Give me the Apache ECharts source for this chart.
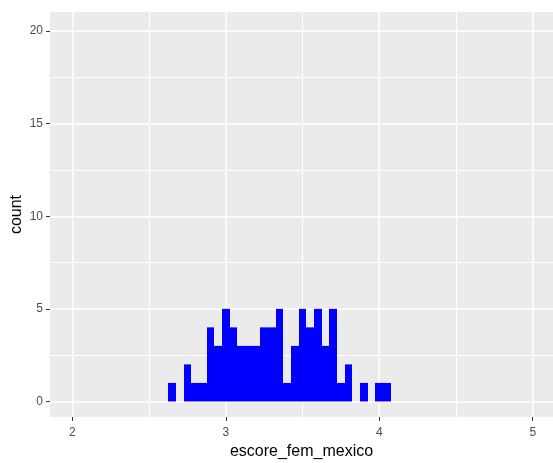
<!DOCTYPE html>
<html>
<head>
<meta charset="utf-8">
<script src="https://cdn.jsdelivr.net/npm/echarts@6/dist/echarts.min.js"></script>
<style>html,body{margin:0;padding:0;background:#fff;}#c{width:553px;height:463px;}</style>
</head>
<body>
<div id="c"></div>
<script>
const binCenters = [2.65,2.70,2.75,2.80,2.85,2.90,2.95,3.00,3.05,3.10,3.15,3.20,3.25,3.30,3.35,3.40,3.45,3.50,3.55,3.60,3.65,3.70,3.75,3.80,3.85,3.90,3.95,4.00,4.05];
const counts = [1,0,2,1,1,4,3,5,4,3,3,3,4,4,5,1,3,5,4,5,3,5,1,2,0,1,0,1,1];
const binWidth = 0.05;
const xTicks = [2,3,4,5];
const xMinor = [2.5,3.5,4.5];
const yTicks = [0,5,10,15,20];
const yMinor = [2.5,7.5,12.5,17.5];

const data = binCenters.map((c, i) => [c, counts[i]]);
const chart = echarts.init(document.getElementById('c'), null, {renderer: 'canvas'});
const font = 'Liberation Sans, Arial, sans-serif';
const xRange = {min: 1.855, max: 5.132};
const yRange = {min: -0.84, max: 21.03};

chart.setOption({
  animation: false,
  backgroundColor: '#fff',
  grid: {left: 50, right: 0, top: 12, bottom: 46, show: true, backgroundColor: '#EBEBEB', borderWidth: 0,
         containLabel: false, outerBoundsMode: 'none'},
  xAxis: [{
    type: 'value', min: xRange.min, max: xRange.max,
    axisLine: {show: false, onZero: false},
    axisTick: {show: true, customValues: xTicks, length: 4, lineStyle: {color: '#333', width: 1}},
    axisLabel: {customValues: xTicks, color: '#4D4D4D', fontSize: 12, fontFamily: font, margin: 10},
    splitLine: {show: true, lineStyle: {color: '#fff', width: 1.5}},
    name: 'escore_fem_mexico', nameLocation: 'middle', nameGap: 27, nameMoveOverlap: false,
    nameTextStyle: {color: '#000', fontSize: 16, fontFamily: font}
  }, {
    type: 'value', min: xRange.min, max: xRange.max, position: 'bottom',
    axisLine: {show: false, onZero: false},
    axisTick: {show: false, customValues: xMinor},
    axisLabel: {show: false, customValues: xMinor},
    splitLine: {show: true, lineStyle: {color: '#fff', width: 1}}
  }],
  yAxis: [{
    type: 'value', min: yRange.min, max: yRange.max,
    axisLine: {show: false, onZero: false},
    axisTick: {show: true, customValues: yTicks, length: 4, lineStyle: {color: '#333', width: 1}},
    axisLabel: {customValues: yTicks, color: '#4D4D4D', fontSize: 12, fontFamily: font, margin: 7},
    splitLine: {show: true, lineStyle: {color: '#fff', width: 1.5}},
    name: 'count', nameLocation: 'middle', nameGap: 25, nameRotate: 90, nameMoveOverlap: false,
    nameTextStyle: {color: '#000', fontSize: 16, fontFamily: font}
  }, {
    type: 'value', min: yRange.min, max: yRange.max, position: 'left',
    axisLine: {show: false, onZero: false},
    axisTick: {show: false, customValues: yMinor},
    axisLabel: {show: false, customValues: yMinor},
    splitLine: {show: true, lineStyle: {color: '#fff', width: 1}}
  }],
  series: [{
    type: 'custom',
    xAxisIndex: 0, yAxisIndex: 0,
    data: data,
    renderItem: function (params, api) {
      const x = api.value(0), y = api.value(1);
      if (!y) return null;
      const p0 = api.coord([x - binWidth / 2, y]);
      const p1 = api.coord([x + binWidth / 2, 0]);
      const x0 = Math.round(p0[0]), x1 = Math.round(p1[0]);
      return {
        type: 'rect',
        shape: {x: x0, y: p0[1], width: x1 - x0, height: p1[1] - p0[1]},
        style: {fill: '#0000FF'}
      };
    },
    z: 5
  }]
});
</script>
</body>
</html>
